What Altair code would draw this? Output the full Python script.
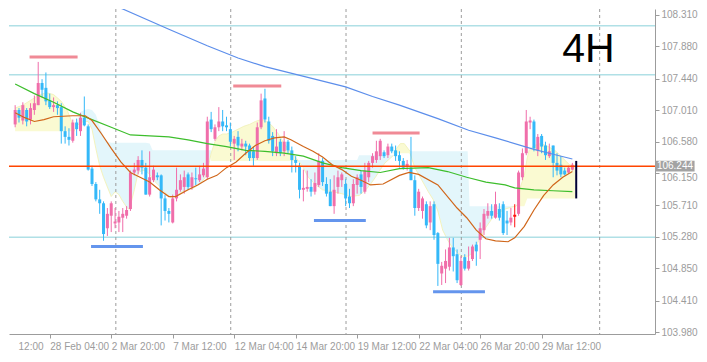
import altair as alt
import pandas as pd

# ---------------- candles (4H bars) ----------------
opens = [106.814,107.011,106.867,107.011,106.880,107.011,107.077,107.379,107.313,107.142,
         107.050,107.077,107.050,106.722,106.644,106.591,106.840,106.722,106.906,106.788,
         106.211,106.001,105.791,105.738,105.397,105.568,105.463,105.476,105.541,105.568,
         105.659,106.158,106.184,106.329,106.224,105.856,106.053,106.119,106.119,105.804,
         105.633,105.476,105.804,105.922,105.961,106.132,105.961,106.079,106.053,106.119,
         106.093,106.880,106.617,106.775,106.854,106.801,106.749,106.552,106.644,106.512,
         106.552,106.526,106.447,106.355,106.775,107.169,106.854,106.657,106.421,106.578,
         106.447,106.578,106.460,106.329,106.250,105.922,105.935,105.961,105.896,105.988,
         106.316,106.001,105.896,105.699,105.961,106.053,106.001,105.830,105.738,105.988,
         106.132,105.896,106.093,106.289,106.329,106.381,106.434,106.394,106.512,106.460,
         106.394,106.316,106.237,106.224,106.053,105.673,105.633,105.725,105.476,105.725,
         105.331,104.780,104.846,104.872,105.135,105.043,104.623,105.003,104.846,104.977,
         105.174,105.240,105.371,105.568,105.633,105.541,105.659,105.725,105.502,105.476,
         105.554,105.594,106.093,106.421,106.840,106.854,106.460,106.657,106.526,106.381,
         106.526,106.289,106.263,106.184,106.158,106.197]
highs = [107.077,107.037,107.116,107.037,107.103,107.208,107.667,107.431,107.523,107.234,
         107.182,107.129,107.103,106.788,106.762,106.880,106.893,106.972,107.195,106.814,
         106.250,106.027,105.922,105.764,105.673,105.764,105.673,105.633,105.673,105.699,
         106.184,106.289,106.381,106.460,106.289,106.447,106.250,106.158,106.132,105.856,
         105.673,105.856,106.224,106.132,106.184,106.158,106.158,106.224,106.250,106.289,
         106.919,106.985,106.814,107.050,107.011,106.919,106.840,106.657,106.722,106.617,
         106.591,106.552,106.512,106.840,107.234,107.300,106.919,106.709,106.749,106.617,
         106.722,106.604,106.512,106.381,106.289,106.197,106.184,106.066,106.158,106.421,
         106.355,106.093,106.066,106.119,106.184,106.158,106.066,105.935,106.066,106.132,
         106.184,106.289,106.316,106.421,106.591,106.617,106.460,106.552,106.552,106.526,
         106.447,106.355,106.329,106.644,106.119,105.935,105.830,105.764,105.764,105.764,
         105.345,104.938,105.108,105.266,105.266,105.108,105.016,105.043,105.148,105.174,
         105.213,105.476,105.659,105.738,105.725,105.896,105.738,105.764,105.633,105.673,
         105.725,106.184,106.486,107.011,106.919,106.880,106.683,106.683,106.578,106.552,
         106.526,106.421,106.381,106.224,106.250,106.289]
lows = [106.775,106.840,106.814,106.788,106.814,106.945,107.077,107.182,107.077,107.024,
        106.985,106.945,106.552,106.552,106.526,106.565,106.657,106.657,106.788,106.184,
        105.974,105.764,105.594,105.226,105.292,105.345,105.397,105.345,105.345,105.528,
        105.633,106.119,106.132,106.132,105.856,105.830,106.027,106.053,105.436,105.502,
        105.476,105.463,105.764,105.896,105.869,105.922,105.922,105.988,106.027,106.093,
        106.066,106.709,106.591,106.722,106.722,106.722,106.512,106.329,106.447,106.460,
        106.394,106.316,106.250,106.329,106.749,106.840,106.552,106.381,106.381,106.381,
        106.381,106.421,106.158,106.158,105.804,105.764,105.896,105.830,105.856,105.961,
        105.974,105.830,105.699,105.594,105.869,105.961,105.699,105.673,105.699,105.869,
        105.869,105.869,106.027,106.224,106.289,106.329,106.355,106.355,106.421,106.316,
        106.224,106.197,106.184,106.053,105.568,105.633,105.528,105.397,105.371,105.240,
        104.610,104.623,104.649,104.820,104.807,104.649,104.610,104.820,104.820,104.951,
        104.885,104.977,105.305,105.528,105.528,105.528,105.502,105.305,105.305,105.436,
        105.410,105.568,106.053,106.394,106.749,106.447,106.381,106.421,106.329,106.355,
        106.093,106.119,106.093,106.119,106.145,106.184]
closes = [107.011,106.906,107.077,106.854,107.037,107.103,107.379,107.287,107.129,107.050,
          107.077,107.037,106.722,106.644,106.604,106.840,106.749,106.906,106.801,106.197,
          106.001,105.791,105.738,105.318,105.594,105.738,105.489,105.554,105.594,105.646,
          106.158,106.197,106.329,106.224,105.856,106.093,106.197,106.093,105.804,105.633,
          105.594,105.804,105.922,106.053,106.093,105.961,106.093,106.066,106.132,106.211,
          106.854,106.749,106.775,106.854,106.788,106.775,106.578,106.617,106.526,106.552,
          106.512,106.355,106.355,106.775,107.142,106.880,106.591,106.447,106.512,106.421,
          106.578,106.460,106.329,106.289,105.922,105.948,105.961,105.896,106.014,106.316,
          106.027,105.869,105.699,105.922,106.093,106.132,105.804,105.738,106.001,106.093,
          105.961,106.184,106.289,106.381,106.447,106.591,106.381,106.512,106.447,106.381,
          106.316,106.224,106.276,106.053,105.673,105.896,105.804,105.436,105.699,105.305,
          104.911,104.885,104.951,105.135,105.016,104.688,104.951,104.846,104.951,105.148,
          105.082,105.397,105.594,105.633,105.568,105.725,105.541,105.331,105.463,105.541,
          105.581,106.158,106.421,106.854,106.867,106.486,106.644,106.512,106.394,106.447,
          106.289,106.184,106.132,106.132,106.224,106.263]
MARKER_BAR = 130

# ---------------- moving averages ----------------
ma_long_i = [26, 28, 40, 50, 58, 65, 72, 86, 93, 100, 110, 118, 125, 135, 140, 145]
ma_long_v = [108.428, 108.389, 108.113, 107.888, 107.720, 107.602, 107.510, 107.326, 107.195,
             107.077, 106.893, 106.735, 106.631, 106.473, 106.407, 106.342]
ma_mid_i = [0, 5, 10, 15, 20, 25, 30, 35, 40, 45, 50, 55, 60, 65, 70, 75, 80, 85, 90, 95, 100,
            107.5, 112.5, 117.5, 122.5, 127.5, 130, 135, 140, 145]
ma_mid_v = [107.365, 107.234, 107.116, 106.985, 106.880, 106.775, 106.670, 106.657, 106.644,
            106.604, 106.552, 106.512, 106.460, 106.447, 106.421, 106.381, 106.289, 106.224,
            106.184, 106.158, 106.211, 106.224, 106.171, 106.093, 106.027, 105.988, 105.948,
            105.922, 105.909, 105.896]
ma_fast_i = [0, 2.5, 5, 7.5, 10, 15, 18.25, 20, 22.5, 25, 27.5, 30, 32.5, 35, 37.5, 40, 41.75,
             45, 47.5, 50, 52.5, 55, 57.5, 60, 62.5, 65, 67.5, 70, 71.75, 75, 77.5, 80, 82.5,
             85, 87.5, 90, 92.5, 95.75, 100, 102.5, 105, 110, 115, 117.5, 120, 122.5, 125,
             128.25, 130, 132.5, 135, 137.5, 140, 142.5, 145]
ma_fast_v = [106.972, 106.906, 106.854, 106.880, 106.919, 106.932, 106.932, 106.867, 106.683,
             106.486, 106.302, 106.158, 106.093, 106.027, 105.922, 105.830, 105.830, 105.922,
             105.988, 106.066, 106.119, 106.224, 106.302, 106.421, 106.526, 106.591, 106.631,
             106.644, 106.604, 106.512, 106.447, 106.368, 106.263, 106.197, 106.106, 106.053,
             105.988, 106.001, 106.119, 106.158, 106.132, 105.988, 105.673, 105.541, 105.371,
             105.253, 105.226, 105.213, 105.266, 105.423, 105.646, 105.843, 105.988, 106.093,
             106.171]

# ---------------- cloud bands (segment, kind, index, top, bottom) ----------------
cloud_seg = ["A"] * 10 + ["B"] * 34 + ["C"] * 18 + ["D"] * 16 + ["E"] * 5 + ["F"] * 22 + ["G"] * 13
cloud_kind = (["bull"] * 10 + ["bear"] * 34 + ["bull"] * 18 + ["bear"] * 16 + ["bull"] * 5
              + ["bear"] * 22 + ["bull"] * 13)
cloud_i = [0, 2, 4, 6, 8, 10, 12, 13.5, 14.5, 15.5,
           16, 17, 18, 19, 20, 21, 22, 23, 24, 25, 26, 27, 28, 29, 29.5, 30, 31, 32, 33, 34, 35,
           35.75, 36.5, 37.5, 39, 40.5, 42, 43.5, 45, 46.5, 48, 49.5, 50.5, 51,
           51, 52, 53, 54, 55, 56.5, 58, 59.5, 61, 62.5, 64, 65.5, 67, 68.5, 70, 71.5, 73, 73.75,
           73.75, 75, 76.25, 78.25, 80, 82.5, 85, 87.5, 89, 89.5, 91.25, 92.5, 93.75, 95, 96.25, 98.5,
           98.5, 99.25, 100.25, 101.25, 102.75,
           102.75, 104, 105, 106.25, 107.5, 108.75, 110, 111.25, 112.5, 113.75, 115, 116.25, 117.75,
           118.25, 119.25, 120.75, 122.5, 124.25, 125.75, 127.5, 129.25, 130.25,
           130.25, 130.75, 131.5, 132.5, 133.25, 133.75, 135, 136.75, 138.75, 140.75, 142.5, 144.25, 145.75]
cloud_top = [107.037, 107.077, 107.142, 107.208, 107.247, 107.221, 107.129, 107.011, 106.880, 106.722,
             106.840, 106.985, 107.011, 107.024, 107.011, 106.945, 106.788, 106.644, 106.578, 106.565,
             106.565, 106.565, 106.565, 106.565, 106.565, 106.565, 106.565, 106.565, 106.565, 106.565,
             106.552, 106.460, 106.460, 106.460, 106.460, 106.460, 106.460, 106.460, 106.460, 106.460,
             106.460, 106.460, 106.460, 106.460,
             106.421, 106.578, 106.657, 106.683, 106.683, 106.709, 106.749, 106.788, 106.814, 106.854,
             106.880, 106.854, 106.788, 106.683, 106.552, 106.447, 106.355, 106.316,
             106.329, 106.329, 106.329, 106.329, 106.329, 106.329, 106.329, 106.329, 106.329, 106.394,
             106.394, 106.394, 106.394, 106.394, 106.394, 106.394,
             106.421, 106.486, 106.552, 106.552, 106.447,
             106.447, 106.447, 106.447, 106.447, 106.447, 106.447, 106.447, 106.447, 106.447, 106.447,
             106.447, 106.447, 106.447, 105.699, 105.699, 105.699, 105.699, 105.699, 105.699, 105.699,
             105.699, 105.699,
             105.699, 105.725, 105.961, 106.119, 106.355, 106.460, 106.526, 106.552, 106.512, 106.447,
             106.355, 106.263, 106.250]
cloud_bottom = [106.722, 106.722, 106.722, 106.722, 106.722, 106.722, 106.722, 106.722, 106.722, 106.722,
                106.788, 106.840, 106.854, 106.854, 106.749, 106.486, 106.250, 106.093, 105.961, 105.830,
                105.896, 105.856, 105.764, 105.686, 105.659, 105.712, 105.922, 106.158, 106.184, 106.184,
                106.132, 106.079, 106.027, 105.974, 105.883, 105.817, 105.843, 105.896, 105.922, 105.948,
                106.001, 106.093, 106.289, 106.421,
                106.316, 106.316, 106.316, 106.316, 106.316, 106.316, 106.316, 106.316, 106.316, 106.316,
                106.316, 106.316, 106.316, 106.316, 106.316, 106.316, 106.316, 106.316,
                106.316, 106.224, 106.093, 105.988, 105.922, 105.896, 105.869, 105.830, 105.843, 105.843,
                105.922, 106.001, 106.093, 106.197, 106.289, 106.394,
                106.421, 106.421, 106.421, 106.421, 106.421,
                106.421, 106.224, 106.132, 106.014, 105.896, 105.791, 105.633, 105.371, 105.240, 105.135,
                105.069, 105.016, 105.016, 105.029, 105.082, 105.240, 105.410, 105.541, 105.607, 105.659,
                105.686, 105.699,
                105.699, 105.699, 105.699, 105.699, 105.804, 105.804, 105.804, 105.804, 105.804, 105.804,
                105.804, 105.804, 105.804]

# ---------------- levels, markers, labels ----------------
current_price = 106.244
level_lines = [108.162, 107.493, 105.275]
separators = [26.2, 56.1, 86.1, 116.1, 152.1]
swing_start = [3.75, 56.75, 93.0, 19.75, 77.75, 108.75]
swing_end = [16.25, 69.25, 105.25, 33.25, 91.25, 122.25]
swing_price = [107.733, 107.339, 106.696, 105.148, 105.502, 104.531]
swing_kind = ["high", "high", "high", "low", "low", "low"]
y_ticks = [108.310, 107.880, 107.440, 107.010, 106.580, 106.150, 105.710, 105.280, 104.850, 104.410, 103.980]
x_tick_pos = [0.75, 9, 25, 41, 57, 73, 89, 105, 121, 137]
x_tick_lab = ["12:00", "28 Feb 04:00", "2 Mar 20:00", "7 Mar 12:00", "12 Mar 04:00", "14 Mar 20:00",
              "19 Mar 12:00", "22 Mar 04:00", "26 Mar 20:00", "29 Mar 12:00"]
timeframe_label = "4H"

# ---------------- build ----------------
GRAY = "#9C9C9C"
FONT = "Liberation Sans, Arial"
UP, DOWN, MARK = "#F06EAA", "#34B8F8", "#FF1010"
n = len(opens)
idx = list(range(n))
candles = pd.DataFrame({"i": idx, "open": opens, "high": highs, "low": lows, "close": closes})
candles["dir"] = ["mark" if k == MARKER_BAR else ("up" if c >= o else "down")
                  for k, o, c in zip(idx, opens, closes)]

xscale = alt.Scale(domain=[-0.3, 165.2], nice=False, zero=False)
yscale = alt.Scale(domain=[103.954, 108.389], nice=False, zero=False)

lab_arr = "[" + ",".join("'" + s + "'" for s in x_tick_lab) + "]"
pos_arr = "[" + ",".join(str(p) for p in x_tick_pos) + "]"
xaxis = alt.Axis(values=x_tick_pos, labelExpr=f"{lab_arr}[indexof({pos_arr}, datum.value)]",
                 labelAlign="left", labelBaseline="top", labelPadding=3, labelFlush=False,
                 labelOverlap=False, tickSize=4, grid=False, labelFont=FONT, labelFontSize=10,
                 labelColor=GRAY, tickColor=GRAY, domainColor=GRAY, title=None,
                 tickOpacity={"condition": {"test": "datum.value < 1", "value": 0}, "value": 1})
yaxis = alt.Axis(orient="right", values=y_ticks, format=".3f", tickSize=4, labelPadding=2,
                 grid=False, labelFont=FONT, labelFontSize=10, labelColor=GRAY, tickColor=GRAY,
                 domainColor=GRAY, title=None,
                 labelOffset={"condition": {"test": "abs(datum.value - 106.15) < 0.001", "value": 4},
                              "value": 0})


def X(f):
    return alt.X(f"{f}:Q", scale=xscale, axis=xaxis, title=None)


def Y(f):
    return alt.Y(f"{f}:Q", scale=yscale, axis=yaxis, title=None)


cloud_df = pd.DataFrame({"seg": cloud_seg, "kind": cloud_kind, "i": cloud_i,
                         "top": cloud_top, "bottom": cloud_bottom})
cloud_df["edge"] = [t if k == "bull" else b for k, t, b in
                    zip(cloud_df.kind, cloud_df.top, cloud_df.bottom)]


def cloud_layer(kind, col):
    return alt.Chart(cloud_df[cloud_df.kind == kind]).mark_area(
        clip=True, color=col, opacity=1).encode(x=X("i"), y=Y("top"), y2="bottom:Q", detail="seg:N")


cloud_bull = cloud_layer("bull", "#FAFAD2")
cloud_bear = cloud_layer("bear", "#E3F6FB")
cloud_edge = alt.Chart(cloud_df).mark_line(color="#F3F3BE", strokeWidth=1, clip=True).encode(
    x=X("i"), y=Y("edge"), detail="seg:N")

levels = alt.Chart(pd.DataFrame({"y": level_lines})).mark_rule(
    color="#B0E0E6", strokeWidth=1.5).encode(y=Y("y"))
seps = alt.Chart(pd.DataFrame({"x": separators})).mark_rule(
    color=GRAY, strokeDash=[3, 3], strokeWidth=1).encode(x=X("x"))

sw = pd.DataFrame({"x1": swing_start, "x2": swing_end, "y": swing_price, "k": swing_kind})


def swing_layer(kind, col):
    return alt.Chart(sw[sw.k == kind]).mark_rule(strokeWidth=3, color=col).encode(
        x=X("x1"), x2="x2:Q", y=Y("y"))


swing_hi = swing_layer("high", "#F08A96")
swing_lo = swing_layer("low", "#6495ED")

candle_layers = []
for d, col in (("up", UP), ("down", DOWN), ("mark", MARK)):
    sub = candles[candles.dir == d]
    candle_layers.append(alt.Chart(sub).mark_rule(strokeWidth=1, clip=True, color=col).encode(
        x=X("i"), y=Y("low"), y2="high:Q"))
    candle_layers.append(alt.Chart(sub).mark_bar(size=3, clip=True, color=col).encode(
        x=X("i"), y=Y("open"), y2="close:Q"))


def ma(ii, vv, col):
    return alt.Chart(pd.DataFrame({"i": ii, "v": vv})).mark_line(
        color=col, strokeWidth=1.2, clip=True).encode(x=X("i"), y=Y("v"))


ma_long = ma(ma_long_i, ma_long_v, "#5C8EEB")
ma_mid = ma(ma_mid_i, ma_mid_v, "#3DBE2C")
ma_fast = ma(ma_fast_i, ma_fast_v, "#D0661A")

price_line = alt.Chart(pd.DataFrame({"y": [current_price]})).mark_rule(
    color="#FF4500", strokeWidth=1.5).encode(y=Y("y"))

now_bar = alt.Chart(pd.DataFrame({"x": [146], "y1": [106.316], "y2": [105.804]})).mark_rule(
    color="#000033", strokeWidth=2).encode(x=X("x"), y=Y("y1"), y2="y2:Q")

tf = alt.Chart(pd.DataFrame({"x": [149.2], "y": [107.825], "t": [timeframe_label]})).mark_text(
    font="Liberation Sans, Arial", fontSize=41, color="#000000", align="center",
    baseline="middle").encode(x=X("x"), y=Y("y"), text="t:N")

box = alt.Chart(pd.DataFrame({"x1": [166.6], "x2": [176.8], "y1": [106.318],
                              "y2": [106.172]})).mark_rect(color="#A3A3A3", clip=False).encode(
    x=X("x1"), x2="x2:Q", y=Y("y1"), y2="y2:Q")
box_txt = alt.Chart(pd.DataFrame({"x": [171.7], "y": [current_price],
                                  "t": [f"{current_price:.3f}"]})).mark_text(
    font=FONT, fontSize=10, color="white", align="center", baseline="middle").encode(
    x=X("x"), y=Y("y"), text="t:N")

chart = alt.layer(cloud_bull, cloud_bear, cloud_edge, levels, seps, swing_hi, swing_lo,
                  *candle_layers, ma_long, ma_mid, ma_fast, price_line, now_bar, tf, box,
                  box_txt).properties(
    width=690, height=343, padding=0, background="white",
    autosize=alt.AutoSizeParams(type="fit", contains="padding")
).configure_view(stroke=None)

chart.save("out.html", embed_options={"renderer": "svg", "actions": False})
